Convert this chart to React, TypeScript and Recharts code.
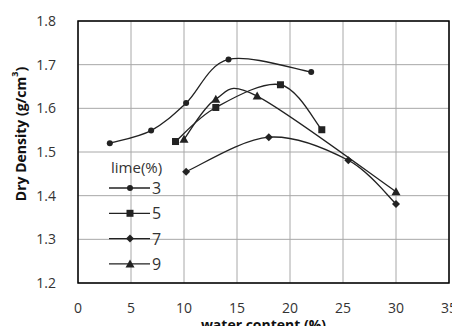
import { CartesianGrid, Customized, Line, LineChart, ReferenceArea, XAxis, YAxis } from "recharts"

// water content (%) / dry density (g/cm3) per lime content
const lime3X = [3, 6.9, 10.2, 14.2, 22]
const lime3Y = [1.52, 1.549, 1.612, 1.712, 1.683]
const lime5X = [9.2, 13, 19.1, 23]
const lime5Y = [1.524, 1.602, 1.654, 1.551]
const lime7X = [10.2, 18, 25.5, 30]
const lime7Y = [1.455, 1.534, 1.481, 1.381]
const lime9X = [10, 13, 16.9, 30]
const lime9Y = [1.529, 1.621, 1.628, 1.409]

const xTicks = [0, 5, 10, 15, 20, 25, 30, 35]
const yTicks = [1.2, 1.3, 1.4, 1.5, 1.6, 1.7, 1.8]
const legendLabels = ["3", "5", "7", "9"]

const toPoints = (xs: number[], ys: number[]) => xs.map((x, i) => ({ x, y: ys[i] }))

const FONT = "'Open Sans', 'DejaVu Sans', sans-serif"
const INK = "#222"
const tickStyle = { fill: "#333", fontSize: 14, fontFamily: FONT }
const fmtY = (v: number) => v.toFixed(1)

// Excel-like smoothed line (Catmull-Rom as cubic beziers)
function smoothCurve(context: any) {
  let pts: [number, number][] = []
  return {
    areaStart() {},
    areaEnd() {},
    lineStart() {
      pts = []
    },
    point(x: number, y: number) {
      pts.push([+x, +y])
    },
    lineEnd() {
      if (!pts.length) return
      context.moveTo(pts[0][0], pts[0][1])
      for (let i = 0; i < pts.length - 1; i++) {
        const p0 = pts[Math.max(0, i - 1)]
        const p1 = pts[i]
        const p2 = pts[i + 1]
        const p3 = pts[Math.min(pts.length - 1, i + 2)]
        context.bezierCurveTo(
          p1[0] + (p2[0] - p0[0]) / 6,
          p1[1] + (p2[1] - p0[1]) / 6,
          p2[0] - (p3[0] - p1[0]) / 6,
          p2[1] - (p3[1] - p1[1]) / 6,
          p2[0],
          p2[1],
        )
      }
    },
  }
}

function Marker({ kind, cx, cy }: { kind: number; cx: number; cy: number }) {
  if (kind === 1) return <rect x={cx - 3.5} y={cy - 3.5} width={7} height={7} fill={INK} />
  if (kind === 2) return <path d={`M${cx},${cy - 4}L${cx + 4},${cy}L${cx},${cy + 4}L${cx - 4},${cy}Z`} fill={INK} />
  if (kind === 3) return <path d={`M${cx},${cy - 4.5}L${cx + 4.5},${cy + 3.5}L${cx - 4.5},${cy + 3.5}Z`} fill={INK} />
  return <circle cx={cx} cy={cy} r={3} fill={INK} />
}

const dotRenderers = [0, 1, 2, 3].map((kind) => (props: any) =>
  props.cx == null ? <g key={props.key} /> : <Marker key={props.key} kind={kind} cx={props.cx} cy={props.cy} />,
)

function LimeLegend() {
  return (
    <g transform="translate(108,156)">
      <text x={3} y={17} fontSize={15} fill="#333" fontFamily={FONT}>
        lime(%)
      </text>
      {legendLabels.map((label, i) => {
        const y = 32 + i * 25.3
        return (
          <g key={label}>
            <line x1={1} x2={42} y1={y} y2={y} stroke={INK} strokeWidth={1.3} />
            <Marker kind={i} cx={22} cy={y} />
            <text x={44} y={y + 6} fontSize={16} fill="#333" fontFamily={FONT}>
              {label}
            </text>
          </g>
        )
      })}
    </g>
  )
}

function DensityLabel() {
  return (
    <text
      x={20}
      y={134}
      transform="rotate(-90 20 134)"
      textAnchor="middle"
      dominantBaseline="central"
      fontSize={14}
      fontWeight={700}
      fontFamily={FONT}
      fill="#111"
    >
      Dry Density (g/cm
      <tspan fontSize={9} dy={-6}>
        3
      </tspan>
      <tspan dy={6}>)</tspan>
    </text>
  )
}

const series = [
  { name: "3", data: toPoints(lime3X, lime3Y) },
  { name: "5", data: toPoints(lime5X, lime5Y) },
  { name: "7", data: toPoints(lime7X, lime7Y) },
  { name: "9", data: toPoints(lime9X, lime9Y) },
]
const allPoints = series.flatMap((s) => s.data)

export default function App() {
  return (
    <div style={{ width: 460, height: 334, background: "#fff", margin: -8 }}>
      <LineChart width={460} height={334} data={allPoints} margin={{ top: 21, right: 11, left: 0, bottom: 0 }}>
        <CartesianGrid stroke="#a8a8a8" />
        <XAxis
          type="number"
          dataKey="x"
          domain={[0, 35]}
          ticks={xTicks}
          interval={0}
          height={51}
          axisLine={false}
          tickLine={false}
          tickMargin={14}
          tick={tickStyle}
          label={{
            value: "water content (%)",
            position: "insideBottom",
            offset: 4,
            fill: "#111",
            fontSize: 14,
            fontWeight: 700,
            fontFamily: FONT,
          }}
        />
        <YAxis
          type="number"
          dataKey="y"
          domain={[1.2, 1.8]}
          ticks={yTicks}
          interval={0}
          width={78}
          axisLine={false}
          tickLine={false}
          tickMargin={16}
          tickFormatter={fmtY}
          tick={tickStyle}
          label={<DensityLabel />}
        />
        <ReferenceArea x1={0} x2={35} y1={1.2} y2={1.8} fill="none" stroke="#000" strokeWidth={1.5} />
        {series.map((s, i) => (
          <Line
            key={s.name}
            data={s.data}
            dataKey="y"
            name={s.name}
            type={smoothCurve as any}
            stroke={INK}
            strokeWidth={1.3}
            dot={dotRenderers[i]}
            activeDot={false}
            isAnimationActive={false}
          />
        ))}
        <Customized component={LimeLegend} />
      </LineChart>
    </div>
  )
}
